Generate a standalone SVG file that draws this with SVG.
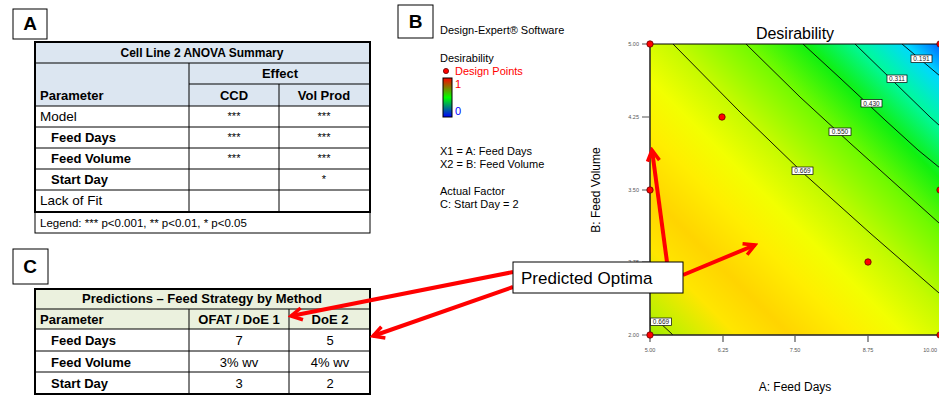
<svg xmlns="http://www.w3.org/2000/svg" width="939" height="395" viewBox="0 0 939 395">
<defs>
<style>
.t{font-family:"Liberation Sans",Arial,sans-serif;fill:#000}
.b{font-weight:bold}
.tk{font-family:"Liberation Sans",Arial,sans-serif;font-size:5.5px;fill:#555}
.cl{font-family:"Liberation Sans",Arial,sans-serif;font-size:6.5px;fill:#222}
.grid{stroke:#000;stroke-width:1;fill:none}
.outer{stroke:#000;stroke-width:2;fill:none}
.cont{stroke:#000;stroke-width:0.9;fill:none}
.lbox{fill:#fff;stroke:#000;stroke-width:0.7}
.dp{fill:#f00;stroke:#600;stroke-width:0.8}
.arr{stroke:#f00;stroke-width:4;fill:none;marker-end:url(#ah)}
.pbox{fill:#fff;stroke:#000;stroke-width:1}
</style>
<marker id="ah" viewBox="0 0 16 16" refX="13" refY="8" markerWidth="16" markerHeight="16" markerUnits="userSpaceOnUse" orient="auto">
<path d="M2,2 L13,8 L2,14" fill="none" stroke="#f00" stroke-width="3.5"/>
</marker>
<linearGradient id="desg" gradientUnits="userSpaceOnUse" x1="650" y1="335" x2="940" y2="45">
<stop offset="0" stop-color="#9CE800"/>
<stop offset="0.045" stop-color="#C0F000"/>
<stop offset="0.15" stop-color="#FFE600"/>
<stop offset="0.24" stop-color="#FFD400"/>
<stop offset="0.35" stop-color="#FFEE00"/>
<stop offset="0.44" stop-color="#F2FF00"/>
<stop offset="0.543" stop-color="#C4FA00"/>
<stop offset="0.672" stop-color="#70FA00"/>
<stop offset="0.77" stop-color="#10F010"/>
<stop offset="0.862" stop-color="#00F8A0"/>
<stop offset="0.943" stop-color="#00D8FF"/>
<stop offset="1" stop-color="#0068FF"/>
</linearGradient>
<linearGradient id="barg" x1="0" y1="0" x2="0" y2="1">
<stop offset="0" stop-color="#f00"/>
<stop offset="0.5" stop-color="#0f0"/>
<stop offset="1" stop-color="#00f"/>
</linearGradient>
<clipPath id="plotclip"><rect x="650" y="44" width="290" height="291"/></clipPath>
</defs>
<rect width="939" height="395" fill="#fff"/>

<!-- Panel A -->
<g id="labelA">
<rect x="13" y="9" width="34" height="30" fill="#fff" stroke="#000" stroke-width="1"/>
<text class="t b" x="30" y="30" font-size="19" text-anchor="middle">A</text>
</g>
<g id="tableA">
<rect x="35" y="42" width="335" height="64" fill="#DCE6F1"/>
<path class="grid" d="M35,63 H370 M189,84 H370 M35,106 H370 M35,127 H370 M35,148 H370 M35,169 H370 M35,190 H370 M189,63 V212 M279,84 V212"/>
<rect class="outer" x="35" y="42" width="335" height="170"/>
<rect x="35" y="212" width="335" height="21" fill="none" stroke="#000" stroke-width="1"/>
<text class="t b" x="202" y="57" font-size="12" text-anchor="middle">Cell Line 2 ANOVA Summary</text>
<text class="t b" x="280" y="78" font-size="13" text-anchor="middle">Effect</text>
<text class="t b" x="40" y="100" font-size="13">Parameter</text>
<text class="t b" x="234" y="100" font-size="13" text-anchor="middle">CCD</text>
<text class="t b" x="324" y="100" font-size="13" text-anchor="middle">Vol Prod</text>
<text class="t" x="40" y="121" font-size="13.5">Model</text>
<text class="t b" x="51" y="142" font-size="13">Feed Days</text>
<text class="t b" x="51" y="163" font-size="13">Feed Volume</text>
<text class="t b" x="51" y="184" font-size="13">Start Day</text>
<text class="t" x="40" y="205" font-size="13.5">Lack of Fit</text>
<g class="t" font-size="11" text-anchor="middle" fill="#333">
<text x="234" y="120">***</text><text x="324" y="120">***</text>
<text x="234" y="141">***</text><text x="324" y="141">***</text>
<text x="234" y="162">***</text><text x="324" y="162">***</text>
<text x="324" y="183">*</text>
</g>
<text class="t" x="40" y="227" font-size="11.5">Legend:  *** p&lt;0.001, ** p&lt;0.01, * p&lt;0.05</text>
</g>

<!-- Panel C -->
<g id="labelC">
<rect x="13" y="249" width="35" height="35" fill="#fff" stroke="#000" stroke-width="1"/>
<text class="t b" x="30" y="273" font-size="19" text-anchor="middle">C</text>
</g>
<g id="tableC">
<rect x="35" y="289" width="335" height="40" fill="#EBF1DE"/>
<path class="grid" d="M35,309 H370 M35,329 H370 M35,351 H370 M35,372 H370 M189,309 V394 M289,309 V394"/>
<rect class="outer" x="35" y="289" width="335" height="105"/>
<text class="t b" x="202" y="303" font-size="13" text-anchor="middle">Predictions – Feed Strategy by Method</text>
<text class="t b" x="40" y="324" font-size="13">Parameter</text>
<text class="t b" x="239" y="324" font-size="13" text-anchor="middle">OFAT / DoE 1</text>
<text class="t b" x="330" y="324" font-size="13" text-anchor="middle">DoE 2</text>
<text class="t b" x="51" y="345" font-size="13">Feed Days</text>
<text class="t b" x="51" y="367" font-size="13">Feed Volume</text>
<text class="t b" x="51" y="388" font-size="13">Start Day</text>
<text class="t" x="239" y="345" font-size="13" text-anchor="middle">7</text>
<text class="t" x="330" y="345" font-size="13" text-anchor="middle">5</text>
<text class="t" x="239" y="367" font-size="13" text-anchor="middle">3% wv</text>
<text class="t" x="330" y="367" font-size="13" text-anchor="middle">4% wv</text>
<text class="t" x="239" y="388" font-size="13" text-anchor="middle">3</text>
<text class="t" x="330" y="388" font-size="13" text-anchor="middle">2</text>
</g>

<!-- Panel B -->
<g id="labelB">
<rect x="398" y="5" width="35" height="33" fill="#fff" stroke="#000" stroke-width="1"/>
<text class="t b" x="415.5" y="28" font-size="19" text-anchor="middle">B</text>
</g>
<g id="legendB">
<text class="t" x="440" y="34" font-size="11">Design-Expert® Software</text>
<text class="t" x="440" y="62" font-size="11">Desirability</text>
<circle class="dp" cx="446" cy="71" r="2.6"/>
<text class="t" x="455" y="75" font-size="11" style="fill:#f00">Design Points</text>
<rect x="443" y="78" width="9" height="39" fill="url(#barg)" stroke="#000" stroke-width="1"/>
<text class="t" x="455" y="88" font-size="11" style="fill:#f00">1</text>
<text class="t" x="455" y="115" font-size="11" style="fill:#00f">0</text>
<text class="t" x="440" y="155" font-size="11">X1 = A: Feed Days</text>
<text class="t" x="440" y="168" font-size="11">X2 = B: Feed Volume</text>
<text class="t" x="440" y="195" font-size="11">Actual Factor</text>
<text class="t" x="440" y="208" font-size="11">C: Start Day = 2</text>
</g>
<g id="plot">
<text class="t" x="795" y="39" font-size="16" text-anchor="middle">Desirability</text>
<g clip-path="url(#plotclip)">
<rect x="650" y="44" width="290" height="291" fill="url(#desg)"/>
<g id="contours">
<polyline class="cont" points="673,44 740,112 802,172 870,233 939,293"/>
<polyline class="cont" points="746,44 800,97 850,143 939,223"/>
<polyline class="cont" points="803,44 840,78 885,120 918,150 940,168"/>
<polyline class="cont" points="855,44 930,117 940,126"/>
<polyline class="cont" points="902,44 940,76"/>
<polyline class="cont" points="658,321 673,335"/>
</g>
<g id="contour-labels">
<rect class="lbox" x="792" y="167" width="21" height="7.5"/><text class="cl" x="802.5" y="173" text-anchor="middle">0.669</text>
<rect class="lbox" x="829" y="128" width="22" height="7.5"/><text class="cl" x="840" y="134" text-anchor="middle">0.550</text>
<rect class="lbox" x="861" y="99.5" width="21" height="7.5"/><text class="cl" x="871.5" y="105.5" text-anchor="middle">0.430</text>
<rect class="lbox" x="887" y="75" width="20" height="7.5"/><text class="cl" x="897" y="81" text-anchor="middle">0.311</text>
<rect class="lbox" x="911" y="55" width="21" height="7.5"/><text class="cl" x="921.5" y="61" text-anchor="middle">0.191</text>
<rect class="lbox" x="650.5" y="318" width="21" height="7.5"/><text class="cl" x="661" y="324" text-anchor="middle">0.669</text>
</g>
</g>
<path d="M650,44 H940" stroke="#000" stroke-width="1" fill="none"/>
<path d="M650,44 V335 H940" stroke="#222" stroke-width="1.5" fill="none"/>
<path d="M642,44 H650 M642,117 H650 M642,190 H650 M642,262 H650 M642,335 H650 M650,335 V342 M723,335 V342 M795,335 V342 M868,335 V342" stroke="#555" stroke-width="1.2" fill="none"/>
<text class="tk" x="639" y="46" text-anchor="end">5.00</text>
<text class="tk" x="639" y="119" text-anchor="end">4.25</text>
<text class="tk" x="639" y="192" text-anchor="end">3.50</text>
<text class="tk" x="639" y="264" text-anchor="end">2.75</text>
<text class="tk" x="639" y="337" text-anchor="end">2.00</text>
<text class="tk" x="650" y="352" text-anchor="middle">5.00</text>
<text class="tk" x="723" y="352" text-anchor="middle">6.25</text>
<text class="tk" x="795" y="352" text-anchor="middle">7.50</text>
<text class="tk" x="868" y="352" text-anchor="middle">8.75</text>
<text class="tk" x="937" y="352" text-anchor="end">10.00</text>
<text class="t" x="795" y="391" font-size="12" text-anchor="middle">A: Feed Days</text>
<text class="t" transform="translate(600,190) rotate(-90)" font-size="12" text-anchor="middle">B: Feed Volume</text>
<g id="design-points">
<circle class="dp" cx="650" cy="44" r="3.2"/>
<circle class="dp" cx="650" cy="190" r="3.2"/>
<circle class="dp" cx="650" cy="335" r="3.2"/>
<circle class="dp" cx="722" cy="117" r="3.2"/>
<circle class="dp" cx="868" cy="262" r="3.2"/>
<circle class="dp" cx="940" cy="44" r="3.2"/>
<circle class="dp" cx="940" cy="190" r="3.2"/>
<circle class="dp" cx="940" cy="335" r="3.2"/>
</g>
</g>

<!-- Connectors -->
<g id="connectors">
<line class="arr" x1="513" y1="272" x2="291" y2="316"/>
<line class="arr" x1="513" y1="287" x2="373" y2="336"/>
<line class="arr" x1="667" y1="262" x2="652" y2="150"/>
<line class="arr" x1="683" y1="275" x2="755" y2="245"/>
</g>

<g id="predicted-optima">
<rect class="pbox" x="513" y="262" width="170" height="31"/>
<text class="t" x="521" y="284" font-size="17">Predicted Optima</text>
</g>
</svg>
